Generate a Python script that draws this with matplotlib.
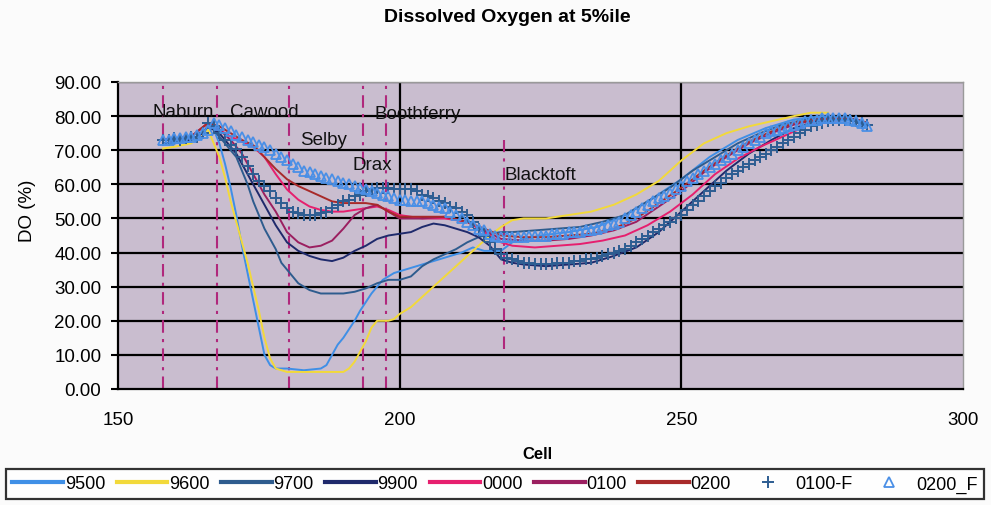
import matplotlib
matplotlib.use("Agg")
import matplotlib.pyplot as plt

plt.rcParams['font.family'] = ['Liberation Sans', 'DejaVu Sans']

# --- data ---
cells_9500 = [158, 160, 163, 165, 166, 167, 168, 169, 170, 171, 172, 173, 174, 175, 176, 177, 178, 180, 183, 186,
              187, 188, 189, 190, 192, 193, 195, 197, 199, 201, 203, 205, 207, 209, 211, 213, 215, 218, 220, 222,
              225, 230, 235, 240, 245, 250, 255, 260, 265, 270, 275, 278, 281, 283]
do_9500 = [72, 72, 73, 75, 77, 76, 72, 66, 59, 51, 42, 34, 26, 18, 10, 7, 6, 6, 5.5, 6,
           7, 10, 13, 15, 20, 23, 28, 32, 34, 35, 36, 37, 38, 39, 40, 41.5, 40.5, 40.5, 43, 44,
           45, 46, 47.5, 51, 56, 61.5, 68, 73, 76.5, 79, 80, 79.5, 78.5, 77]

cells_9600 = [158, 160, 163, 165, 166, 167, 168, 169, 170, 171, 172, 173, 174, 175, 176, 177, 178, 180, 185, 190,
              191, 192, 193, 194, 195, 196, 198, 199, 200, 202, 204, 206, 208, 210, 212, 214, 216, 218, 220, 222,
              226, 230, 234, 238, 242, 246, 250, 254, 258, 262, 266, 270, 273, 276]
do_9600 = [70.5, 71, 72, 75, 76, 72, 68, 62, 55, 49, 43, 37, 30, 23, 15, 9, 6, 5, 5, 5,
           6, 8, 11, 14, 18, 20, 20, 20.5, 22, 24, 27, 30, 33, 36, 39, 42, 45, 47.5, 49.5, 50,
           50, 51, 52, 54, 57, 61, 67, 72, 75, 77, 78.5, 80, 81, 81]

cells_9700 = [158, 160, 163, 165, 166, 167, 168, 169, 170, 171, 172, 173, 174, 175, 176, 177, 178, 179, 180, 181,
              182, 184, 186, 188, 190, 192, 194, 196, 198, 200, 202, 204, 206, 208, 210, 212, 214, 216, 218, 220,
              224, 228, 232, 236, 240, 244, 248, 252, 256, 260, 264, 268, 272, 276, 280, 283]
do_9700 = [72, 72, 73, 75, 77, 76, 74, 72, 70, 68, 64, 60, 55, 51, 47, 44, 41, 37, 35, 33,
           31, 29, 28, 28, 28, 28.5, 29.5, 31, 32, 32, 33, 36, 38, 39.5, 41, 43, 44.5, 45.5, 46, 46,
           46.5, 47, 47.5, 49, 51, 55, 59, 64, 68, 72, 75, 77.5, 79, 79.5, 79, 78]

cells_9900 = [158, 163, 165, 166, 167, 168, 169, 170, 171, 172, 173, 174, 175, 176, 177, 178, 179, 180, 182, 184,
              186, 188, 190, 192, 194, 196, 198, 200, 202, 204, 206, 208, 210, 212, 214, 216, 218, 220, 222, 226,
              230, 234, 238, 242, 246, 250, 254, 258, 262, 266, 270, 274, 278, 281, 283]
do_9900 = [72, 73, 75, 77, 76, 75, 73, 71, 69, 66, 63, 60, 57, 54, 51, 48, 45.5, 43, 40.5, 39,
           38, 37.5, 38.5, 40.5, 42, 44, 45, 45.5, 46, 47.5, 48.5, 48, 47, 46, 44.5, 42, 38, 37, 36.5, 36,
           36.5, 37, 39, 41.5, 46, 52, 58, 64, 69, 73, 76.5, 78.5, 79.5, 79, 78]

cells_0000 = [158, 163, 166, 168, 170, 172, 174, 176, 178, 180, 182, 184, 186, 188, 190, 192, 194, 196, 198, 200,
              204, 208, 212, 214, 216, 218, 220, 224, 228, 232, 236, 240, 244, 248, 252, 256, 260, 264, 268, 272,
              276, 280, 283]
do_0000 = [73, 74, 78, 76, 74, 72.5, 71, 68, 63, 58.5, 55.5, 53.5, 52.5, 52, 52, 52.5, 53, 53.5, 52.5, 51,
           50, 50, 49, 47, 45, 43, 42, 41.5, 42, 42.5, 43.5, 45, 48, 52, 57, 63, 67.5, 71, 74, 77,
           78.5, 79, 78]

cells_0100 = [158, 163, 166, 168, 170, 172, 174, 176, 178, 180, 182, 184, 186, 188, 190, 192, 194, 196, 198, 200,
              204, 208, 212, 215, 218, 222, 226, 230, 234, 238, 242, 246, 250, 254, 258, 262, 266, 270, 274, 278,
              281, 283]
do_0100 = [73, 74, 78, 76, 73, 69, 63, 57, 52, 46, 43, 41.5, 42, 43.5, 47, 51, 53, 54, 52, 50,
           50, 50.5, 49, 46.5, 44, 43.5, 43.5, 44, 45, 46.5, 49, 53.5, 58, 63.5, 68, 72, 75, 77.5, 79, 79.5,
           79, 78]

cells_0200 = [158, 163, 166, 168, 170, 172, 174, 176, 178, 180, 182, 184, 186, 188, 190, 192, 194, 196, 198, 200,
              204, 208, 212, 215, 218, 222, 226, 230, 234, 238, 242, 246, 250, 254, 258, 262, 266, 270, 274, 278,
              281, 283]
do_0200 = [73, 74, 78, 77, 75, 73, 71.5, 68, 64.5, 61.5, 59.5, 58, 56.5, 55, 54.5, 54.5, 54.5, 54, 52, 50.5,
           50.5, 50.5, 49, 47, 45, 44.5, 44.5, 45, 45.5, 47, 50, 54.5, 59, 64, 68.5, 72.5, 75.5, 78, 79, 79.5,
           79, 78]

cells_f = list(range(158, 284))
do_0100_f = [73, 73, 73.5, 73, 73.5, 74, 74, 75, 78, 77,
             75, 73, 71.5, 70.5, 68, 65.5, 63, 61, 59.5, 58,
             56, 54.5, 53, 52, 51.5, 51, 51, 51, 51.5, 52,
             53, 54, 55, 55.5, 56.5, 57, 58, 58.5, 59, 59,
             59, 58.5, 58.5, 58.5, 58.5, 58, 57, 56.5, 56, 55,
             54.5, 53.5, 53, 52, 51, 49, 47, 45, 43, 41,
             39.5, 38.5, 38, 37.5, 37, 37, 36.5, 36.5, 36.5, 36.5,
             37, 37, 37, 37.5, 37.5, 38, 38, 38.5, 39, 39.5,
             40, 40.5, 41, 42, 43, 44, 45, 46, 47, 48,
             49, 50, 51, 52.5, 54, 55, 56.5, 58, 59.5, 60.5,
             62, 63, 64, 65, 66, 67, 68, 69, 70, 71,
             72, 73, 74, 75, 76, 77, 77.5, 78, 78.5, 79,
             79, 79, 79, 78.5, 78, 77.5]
do_0200_f = [73, 73, 73.5, 73.5, 74, 74, 74.5, 75, 76, 78,
             77.5, 76.5, 75.5, 74.5, 74, 73, 72.5, 71.5, 71, 70,
             69, 68, 67, 66, 65, 64, 63.5, 63, 62.5, 62,
             61.5, 61, 60.5, 60, 59.5, 59, 58.5, 58, 57.5, 57,
             56.5, 56, 55.5, 55.5, 55, 55, 55, 54.5, 54, 53.5,
             53, 52, 51, 50, 49, 48, 47, 46.5, 45.5, 45,
             44.5, 44.5, 44.5, 44.5, 44.5, 45, 45, 45, 45, 45.5,
             45.5, 45.5, 46, 46, 46, 46.5, 46.5, 47, 47.5, 48,
             48.5, 49, 50, 51, 52, 53, 54, 55, 56, 56.5,
             57.5, 58.5, 59.5, 61, 62, 63, 64, 65, 66, 67,
             68, 69, 70, 71, 72, 73, 74, 75, 75.5, 76,
             76.5, 77, 77.5, 78, 78.5, 79, 79, 79.5, 79.5, 79.5,
             79.5, 79.5, 79, 78.5, 78, 77]

stations = ['Naburn', 'Cawood', 'Selby', 'Drax', 'Boothferry', 'Blacktoft']
station_cells = [158, 167.5, 180.3, 193.5, 197.5, 218.5]
y_ticks = [0, 10, 20, 30, 40, 50, 60, 70, 80, 90]
x_ticks = [150, 200, 250, 300]

# --- figure ---
fig = plt.figure(figsize=(9.91, 5.06), dpi=100, facecolor='#fbfbfb')
ax = fig.add_axes([118 / 991, 1 - 390 / 506, 845 / 991, 307 / 506])
ax.set_facecolor('#c9bdcf')

ax.set_xlim(150, 300)
ax.set_ylim(0, 90)
ax.set_yticks(y_ticks)
ax.set_yticklabels([f'{v:.2f}' for v in y_ticks])
ax.set_xticks(x_ticks)
ax.tick_params(axis='y', labelsize=13.5, length=5, width=1.5, pad=7)
ax.tick_params(axis='x', labelsize=13.5, length=0, pad=16)

# grid: horizontal each 10, vertical at 200 and 250
for v in y_ticks[1:]:
    ax.axhline(v, color='black', lw=1.6, zorder=1)
for c in [200, 250]:
    ax.axvline(c, color='black', lw=1.6, zorder=1)
for s in ['left', 'bottom']:
    ax.spines[s].set_color('black')
    ax.spines[s].set_linewidth(1.6)
for s in ['top', 'right']:
    ax.spines[s].set_color('#9a9a9a')
    ax.spines[s].set_linewidth(1.0)

# station markers
for c in station_cells:
    lo, hi = (0.13, 0.81) if c > 210 else (0, 1)
    ax.axvline(c, ymin=lo, ymax=hi, color='#b0287c', lw=1.5, dashes=(6, 3, 1.5, 3), zorder=2)

label_pos = {'Naburn': (156.2, 80.1), 'Cawood': (169.9, 80.1), 'Selby': (182.3, 71.8),
             'Drax': (191.7, 64.5), 'Boothferry': (195.6, 79.5), 'Blacktoft': (218.6, 61.6)}
for name in stations:
    x, y = label_pos[name]
    ax.text(x, y, name, fontsize=13.5, ha='left', va='baseline', color='#111111', zorder=6)

# series
ax.plot(cells_9500, do_9500, color='#3f8fe6', lw=1.4, label='9500', zorder=3)
ax.plot(cells_9600, do_9600, color='#f2d93a', lw=1.4, label='9600', zorder=3)
ax.plot(cells_9700, do_9700, color='#2e5c8e', lw=1.4, label='9700', zorder=3)
ax.plot(cells_9900, do_9900, color='#1f2a6c', lw=1.4, label='9900', zorder=3)
ax.plot(cells_0000, do_0000, color='#e61f6e', lw=1.4, label='0000', zorder=3)
ax.plot(cells_0100, do_0100, color='#9b1f60', lw=1.4, label='0100', zorder=3)
ax.plot(cells_0200, do_0200, color='#a82a2a', lw=1.4, label='0200', zorder=3)
ax.plot(cells_f, do_0100_f, ls='none', marker='+', ms=9, mew=1.4, color='#2d5d92',
        label='0100-F', zorder=4)
ax.plot(cells_f, do_0200_f, ls='none', marker='^', ms=7, mew=1.3, mfc='none', color='#4a8fe6',
        label='0200_F', zorder=5)

# titles
fig.text(507 / 991, 1 - 17 / 506, 'Dissolved Oxygen at 5%ile', ha='center', va='center',
         fontsize=14, fontweight='bold')
fig.text(537 / 991, 1 - 455 / 506, 'Cell', ha='center', va='center', fontsize=12, fontweight='bold')
fig.text(28 / 991, 1 - 211 / 506, 'DO (%)', ha='center', va='center', fontsize=13.5, rotation=90)

leg = fig.legend(loc='lower left', bbox_to_anchor=(6 / 991, 6 / 506, 978 / 991, 34 / 506),
                 mode='expand', ncol=9, fontsize=13, frameon=True, fancybox=False,
                 handlelength=2.8, handletextpad=0.1, columnspacing=0.5, borderaxespad=0,
                 borderpad=0.35, markerscale=1.0)
leg.get_frame().set_edgecolor('black')
leg.get_frame().set_linewidth(1.6)
leg.get_frame().set_facecolor('white')
for h in leg.legend_handles[:7]:
    h.set_linewidth(3)

fig.savefig('out.png', dpi=100, facecolor=fig.get_facecolor())
